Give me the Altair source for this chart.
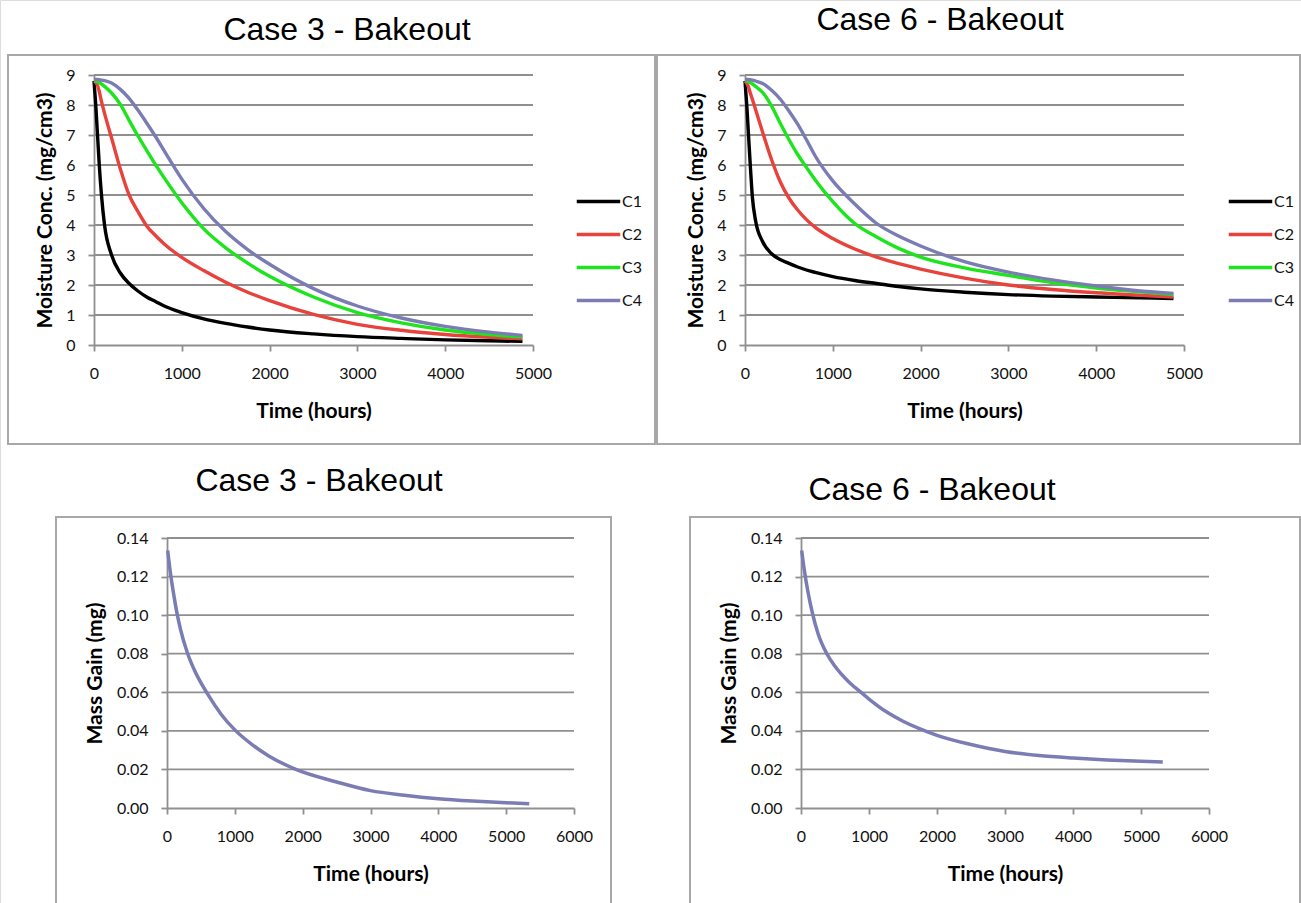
import altair as alt
import pandas as pd

W, H = 1301, 903

SERIES = ["C1", "C2", "C3", "C4"]
COLORS = ["#000000", "#E8423C", "#1EE41E", "#7B7CB4"]
MASS_COLOR = "#7B7CB4"

# ---- Moisture concentration (mg/cm3) vs time (hours) ----
T_CONC = [0, 20, 40, 60, 85, 120, 200, 300, 400, 500, 600, 700, 800, 1000,
          1250, 1500, 1750, 2000, 2500, 3000, 3500, 4000, 4500, 4880]

CASE3_C1 = [8.8, 8.0, 7.0, 6.0, 5.0, 4.0, 3.0, 2.4, 2.05, 1.8, 1.6, 1.45, 1.3, 1.08,
            0.87, 0.72, 0.6, 0.5, 0.37, 0.28, 0.22, 0.17, 0.14, 0.12]
CASE3_C2 = [8.8, 8.75, 8.65, 8.45, 8.12, 7.72, 6.9, 5.87, 5.0, 4.45, 3.97, 3.65, 3.37, 2.92,
            2.48, 2.09, 1.76, 1.48, 1.02, 0.69, 0.49, 0.35, 0.26, 0.21]
CASE3_C3 = [8.8, 8.8, 8.78, 8.75, 8.7, 8.62, 8.4, 8.02, 7.49, 6.97, 6.49, 6.01, 5.57, 4.74,
            3.87, 3.24, 2.73, 2.29, 1.6, 1.08, 0.74, 0.5, 0.35, 0.27]
CASE3_C4 = [8.85, 8.85, 8.85, 8.84, 8.83, 8.81, 8.73, 8.52, 8.22, 7.83, 7.4, 6.95, 6.47, 5.53,
            4.55, 3.78, 3.18, 2.69, 1.88, 1.3, 0.9, 0.62, 0.43, 0.32]

CASE6_C1 = [8.8, 8.0, 7.0, 6.0, 4.9, 4.15, 3.45, 3.05, 2.85, 2.72, 2.6, 2.5, 2.42, 2.28,
            2.15, 2.05, 1.95, 1.87, 1.76, 1.68, 1.63, 1.6, 1.57, 1.55]
CASE6_C2 = [8.8, 8.72, 8.6, 8.4, 8.18, 7.85, 7.1, 6.2, 5.45, 4.9, 4.5, 4.18, 3.92, 3.55,
            3.2, 2.93, 2.71, 2.53, 2.23, 2.0, 1.85, 1.74, 1.66, 1.6]
CASE6_C3 = [8.8, 8.8, 8.78, 8.75, 8.7, 8.62, 8.42, 7.98, 7.4, 6.85, 6.35, 5.92, 5.5, 4.78,
            4.05, 3.6, 3.22, 2.93, 2.57, 2.32, 2.08, 1.9, 1.77, 1.68]
CASE6_C4 = [8.85, 8.85, 8.85, 8.84, 8.83, 8.8, 8.72, 8.5, 8.2, 7.8, 7.36, 6.84, 6.3, 5.47,
            4.7, 4.05, 3.63, 3.3, 2.78, 2.43, 2.17, 1.97, 1.8, 1.72]

# ---- Mass gain (mg) vs time (hours) ----
T_MASS3 = [10, 50, 100, 150, 200, 300, 400, 600, 800, 1000, 1250, 1500, 1900, 2500,
           3000, 3500, 4000, 4500, 5000, 5340]
MASS3 = [0.1335, 0.122, 0.1105, 0.1005, 0.0925, 0.0805, 0.0718, 0.059, 0.0485, 0.0405, 0.033,
         0.027, 0.020, 0.0135, 0.0090, 0.0066, 0.0048, 0.0036, 0.0027, 0.0022]
T_MASS6 = [10, 50, 100, 165, 250, 380, 500, 700, 870, 1000, 1250, 1500, 1750, 2000, 2500,
           3000, 3500, 4000, 4500, 5000, 5320]
MASS6 = [0.1335, 0.123, 0.1125, 0.1015, 0.0905, 0.080, 0.0735, 0.0655, 0.0603, 0.0565, 0.050,
         0.045, 0.041, 0.0377, 0.0329, 0.0293, 0.0272, 0.0259, 0.0249, 0.0242, 0.0239]

CONC_Y_TICKS = [0, 1, 2, 3, 4, 5, 6, 7, 8, 9]
CONC_X_TICKS = [0, 1000, 2000, 3000, 4000, 5000]
MASS_Y_TICKS = [0.0, 0.02, 0.04, 0.06, 0.08, 0.10, 0.12, 0.14]
MASS_X_TICKS = [0, 1000, 2000, 3000, 4000, 5000, 6000]

TITLE_3 = "Case 3 - Bakeout"
TITLE_6 = "Case 6 - Bakeout"
X_TITLE = "Time (hours)"
Y_TITLE_CONC = "Moisture Conc. (mg/cm3)"
Y_TITLE_MASS = "Mass Gain (mg)"

GRID_COLOR = "#8f8f8f"
BOX_COLOR = "#a8a8a8"


def conc_frame(curves):
    rows = []
    for name, vals in zip(SERIES, curves):
        for t, v in zip(T_CONC, vals):
            rows.append({"t": t, "v": v, "s": name})
    return pd.DataFrame(rows)


def panel(df, xdom, xr, ydom, yr, xticks, yticks, yfmt, ytitle, ytitle_x,
          title, tx, ty, box, legend_xy=None):
    xs = alt.Scale(domain=xdom, range=xr, nice=False, zero=False)
    ys = alt.Scale(domain=ydom, range=yr, nice=False, zero=False)
    one = pd.DataFrame({"a": [0]})

    xaxis = alt.Axis(orient="bottom", offset=yr[0] - H, values=xticks, format="d",
                     grid=False, title=X_TITLE, titleY=66, titleBaseline="middle",
                     labelFlush=False, labelOverlap=False, tickSize=6, labelPadding=14)
    yaxis = alt.Axis(orient="left", offset=-xr[0], values=yticks, format=yfmt,
                     grid=False, title=ytitle, titleX=ytitle_x, titleBaseline="middle",
                     titleAngle=270, labelFlush=False, labelOverlap=False, tickSize=6,
                     labelPadding=13)

    border = alt.Chart(one).mark_rect(fillOpacity=0, stroke=BOX_COLOR, strokeWidth=2).encode(
        x=alt.value(box[0]), x2=alt.value(box[1]), y=alt.value(box[2]), y2=alt.value(box[3]))

    ttl = alt.Chart(one).mark_text(font="Liberation Sans", fontSize=32, align="center",
                                   baseline="middle", color="#000000").encode(
        x=alt.value(tx), y=alt.value(ty), text=alt.value(title))

    gdf = pd.DataFrame({"t": [xdom[0]] * (len(yticks) - 1),
                        "t2": [xdom[1]] * (len(yticks) - 1),
                        "v": [v for v in yticks if v > 0]})
    grid = alt.Chart(gdf).mark_rule(color=GRID_COLOR, strokeWidth=1.8).encode(
        x=alt.X("t:Q", scale=xs, axis=xaxis),
        x2="t2:Q",
        y=alt.Y("v:Q", scale=ys, axis=yaxis))

    if legend_xy is not None:
        color = alt.Color("s:N", scale=alt.Scale(domain=SERIES, range=COLORS),
                          legend=alt.Legend(orient="none", legendX=legend_xy[0],
                                            legendY=legend_xy[1], title=None,
                                            symbolType="stroke", symbolStrokeWidth=3.3,
                                            symbolSize=1890, rowPadding=1, padding=0,
                                            labelFont="Lato", labelFontSize=16,
                                            labelColor="#111111", labelOffset=0))
        lines = alt.Chart(df).mark_line(strokeWidth=3.4, interpolate="monotone").encode(
            x=alt.X("t:Q", scale=xs, axis=xaxis),
            y=alt.Y("v:Q", scale=ys, axis=yaxis),
            color=color, detail="s:N")
    else:
        lines = alt.Chart(df).mark_line(strokeWidth=3.5, interpolate="monotone",
                                        color=MASS_COLOR).encode(
            x=alt.X("t:Q", scale=xs, axis=xaxis),
            y=alt.Y("v:Q", scale=ys, axis=yaxis))

    return alt.layer(border, ttl, grid, lines)


df3 = conc_frame([CASE3_C1, CASE3_C2, CASE3_C3, CASE3_C4])
df6 = conc_frame([CASE6_C1, CASE6_C2, CASE6_C3, CASE6_C4])
dm3 = pd.DataFrame({"t": T_MASS3, "v": MASS3})
dm6 = pd.DataFrame({"t": T_MASS6, "v": MASS6})

p1 = panel(df3, [0, 5000], [94, 533], [0, 9], [345, 75], CONC_X_TICKS, CONC_Y_TICKS, "d",
           Y_TITLE_CONC, -49, TITLE_3, 347, 30, (8, 655, 55, 444), legend_xy=(575, 178))
p2 = panel(df6, [0, 5000], [745, 1184], [0, 9], [345, 75], CONC_X_TICKS, CONC_Y_TICKS, "d",
           Y_TITLE_CONC, -49, TITLE_6, 940, 20, (657, 1300, 55, 444), legend_xy=(1227, 178))
p3 = panel(dm3, [0, 6000], [167, 574], [0, 0.14], [808, 538], MASS_X_TICKS, MASS_Y_TICKS,
           ".2f", Y_TITLE_MASS, -72, TITLE_3, 319, 481, (56, 611, 517, 910))
p4 = panel(dm6, [0, 6000], [801, 1209], [0, 0.14], [808, 538], MASS_X_TICKS, MASS_Y_TICKS,
           ".2f", Y_TITLE_MASS, -72, TITLE_6, 932, 490, (690, 1300, 517, 910))

chart = alt.layer(p1, p2, p3, p4).resolve_scale(
    x="independent", y="independent", color="independent"
).properties(
    width=W, height=H, autosize=alt.AutoSizeParams(type="none"), padding=0
).configure_view(stroke=None).configure(background="white").configure_axis(
    labelFont="Lato", labelFontSize=16, labelColor="#111111",
    titleFont="Lato", titleFontSize=21, titleFontWeight="bold", titleColor="#000000",
    domainColor=GRID_COLOR, domainWidth=1.8, tickColor=GRID_COLOR, tickWidth=1.8
)

chart.save("out.html", embed_options={"renderer": "svg", "actions": False})
